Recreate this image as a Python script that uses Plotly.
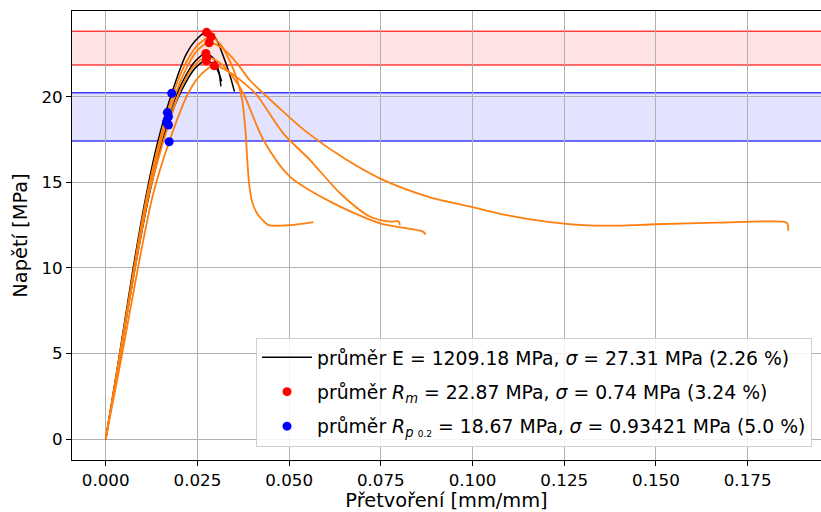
import plotly.graph_objects as go

# ---------------- data ----------------
# black curves (strain [mm/mm], stress [MPa])
k1_x = [0, 0.0038, 0.0075, 0.0108, 0.0140, 0.0180, 0.0220, 0.0250, 0.0275, 0.0300, 0.0320, 0.0338, 0.0351]
k1_y = [0, 5.0, 10.0, 14.0, 17.2, 20.2, 22.5, 23.4, 23.76, 23.4, 22.4, 21.3, 20.3]
k2_x = [0, 0.0040, 0.0079, 0.0117, 0.0171, 0.0210, 0.0245, 0.0273, 0.0295, 0.0308, 0.0314]
k2_y = [0, 5.0, 10.0, 14.3, 18.83, 20.9, 22.1, 22.53, 22.2, 21.5, 20.6]
k3_x = [0, 0.0040, 0.0080, 0.0120, 0.0169, 0.0210, 0.0245, 0.0274, 0.0298, 0.0310, 0.0316]
k3_y = [0, 5.0, 10.0, 14.4, 18.40, 20.5, 21.7, 22.1, 21.8, 21.3, 20.9]

# orange curves (full records)
o1_x = [0, 0.0039, 0.0077, 0.0113, 0.0168, 0.0210, 0.0250, 0.0287, 0.0315, 0.0340, 0.0358, 0.0372,
        0.0381, 0.0386, 0.0391, 0.0400, 0.0415, 0.0430, 0.0444, 0.0503, 0.0566]
o1_y = [0, 5.0, 10.0, 14.3, 19.07, 21.6, 23.0, 23.5, 23.0, 22.0, 21.0, 19.8,
        18.0, 16.3, 14.9, 13.8, 13.1, 12.75, 12.5, 12.5, 12.68]
o2_x = [0, 0.0040, 0.0079, 0.0116, 0.0166, 0.0210, 0.0250, 0.0282, 0.0320, 0.0360, 0.0393, 0.0470,
        0.0550, 0.0650, 0.0750, 0.0880, 0.1000, 0.1100, 0.1200, 0.1300, 0.1400, 0.1500, 0.1666,
        0.1847, 0.1858, 0.1861]
o2_y = [0, 5.0, 10.0, 14.3, 18.54, 21.2, 22.7, 23.15, 22.8, 21.9, 20.96, 19.4,
        17.9, 16.4, 15.2, 14.15, 13.55, 13.05, 12.7, 12.5, 12.47, 12.55, 12.64,
        12.7, 12.6, 12.17]
o3_x = [0, 0.0040, 0.0080, 0.0118, 0.0171, 0.0210, 0.0245, 0.0275, 0.0310, 0.0345, 0.0375, 0.0430,
        0.0502, 0.0612, 0.0748, 0.0865, 0.0872]
o3_y = [0, 5.0, 10.0, 14.3, 18.35, 20.7, 21.9, 22.3, 22.0, 21.2, 20.2, 17.47,
        15.33, 13.87, 12.6, 12.12, 11.95]
o4_x = [0, 0.0045, 0.0088, 0.0128, 0.0173, 0.0225, 0.0260, 0.0296, 0.0340, 0.0393, 0.0412, 0.0484,
        0.0557, 0.0639, 0.0720, 0.0775, 0.0798, 0.0802]
o4_y = [0, 5.0, 10.0, 14.2, 17.37, 20.2, 21.3, 21.81, 21.4, 20.5, 20.1, 17.86,
        16.3, 14.36, 13.0, 12.7, 12.72, 12.5]

# ultimate strength points (R_m)
rm_x = [0.0275, 0.0287, 0.0282, 0.0273, 0.0275, 0.0274, 0.0296]
rm_y = [23.76, 23.5, 23.15, 22.53, 22.3, 22.1, 21.81]
# proof strength points (R_p0.2)
rp_x = [0.0180, 0.0168, 0.0171, 0.0166, 0.0171, 0.0169, 0.0173]
rp_y = [20.2, 19.07, 18.83, 18.54, 18.35, 18.40, 17.37]

rm_band = [21.85, 23.82]
rp_band = [17.41, 20.23]

x_ticks = [0.0, 0.025, 0.05, 0.075, 0.1, 0.125, 0.15, 0.175]
y_ticks = [0, 5, 10, 15, 20]

leg_e = "průměr E = 1209.18 MPa, <i>σ</i> = 27.31 MPa (2.26 %)"
leg_rm = "průměr <i>R</i><sub><i>m</i></sub> = 22.87 MPa, <i>σ</i> = 0.74 MPa (3.24 %)"
leg_rp = ("průměr <i>R</i><sub><i>p</i> <span style=\"font-size:9px\">0.2</span></sub>"
          " = 18.67 MPa, <i>σ</i> = 0.93421 MPa (5.0 %)")

# ---------------- figure ----------------
FONT = "DejaVu Sans"
ORANGE = "#ff7f0e"
fig = go.Figure()

blacks = [(k1_x, k1_y), (k2_x, k2_y), (k3_x, k3_y)]
for i, (bx, by) in enumerate(blacks):
    fig.add_trace(go.Scatter(x=bx, y=by, mode="lines",
                             line=dict(color="black", width=1.5, shape="spline", smoothing=0.8),
                             name=leg_e, showlegend=(i == 0), legendgroup="e"))

for ox, oy in [(o1_x, o1_y), (o2_x, o2_y), (o3_x, o3_y), (o4_x, o4_y)]:
    fig.add_trace(go.Scatter(x=ox, y=oy, mode="lines",
                             line=dict(color=ORANGE, width=1.8, shape="spline", smoothing=0.8),
                             showlegend=False, hoverinfo="skip"))

fig.add_trace(go.Scatter(x=rm_x, y=rm_y, mode="markers",
                         marker=dict(color="red", size=9), name=leg_rm, legendgroup="rm"))
fig.add_trace(go.Scatter(x=rp_x, y=rp_y, mode="markers",
                         marker=dict(color="blue", size=9), name=leg_rp, legendgroup="rp"))

for band, fillc, linec in [(rm_band, "rgba(255,0,0,0.11)", "rgba(255,0,0,0.75)"),
                           (rp_band, "rgba(0,0,255,0.11)", "rgba(0,0,255,0.75)")]:
    fig.add_shape(type="rect", xref="paper", yref="y", x0=0, x1=1, y0=band[0], y1=band[1],
                  fillcolor=fillc, line_width=0, layer="between")
    for v in band:
        fig.add_shape(type="line", xref="paper", yref="y", x0=0, x1=1, y0=v, y1=v,
                      line=dict(color=linec, width=1.5), layer="between")

fig.update_layout(
    width=821, height=512,
    margin=dict(l=72, r=0, t=11, b=52),
    paper_bgcolor="white", plot_bgcolor="white",
    font=dict(family=FONT, size=17, color="black"),
    showlegend=True,
    legend=dict(x=0.988, y=0.03, xanchor="right", yanchor="bottom",
                bgcolor="rgba(255,255,255,0.85)", bordercolor="#d0d0d0", borderwidth=1,
                font=dict(family=FONT, size=18.8), traceorder="grouped", tracegroupgap=7,
                itemwidth=50),
)
fig.update_xaxes(range=[-0.00919, 0.1950], tickvals=x_ticks, tickformat=".3f",
                 showgrid=True, gridcolor="#b0b0b0", gridwidth=1.1, zeroline=False,
                 showline=True, linecolor="black", linewidth=1.1, mirror=True,
                 ticks="outside", ticklen=5, tickwidth=1.1, tickcolor="black",
                 tickfont=dict(size=16.7),
                 title=dict(text="Přetvoření [mm/mm]", font=dict(size=19.4), standoff=6))
fig.update_yaxes(range=[-1.221, 25.006], tickvals=y_ticks,
                 showgrid=True, gridcolor="#b0b0b0", gridwidth=1.1, zeroline=False,
                 showline=True, linecolor="black", linewidth=1.1, mirror=False,
                 ticks="outside", ticklen=5, tickwidth=1.1, tickcolor="black",
                 tickfont=dict(size=16.7),
                 title=dict(text="Napětí [MPa]", font=dict(size=19.4), standoff=8))

fig.write_html("out.html")
